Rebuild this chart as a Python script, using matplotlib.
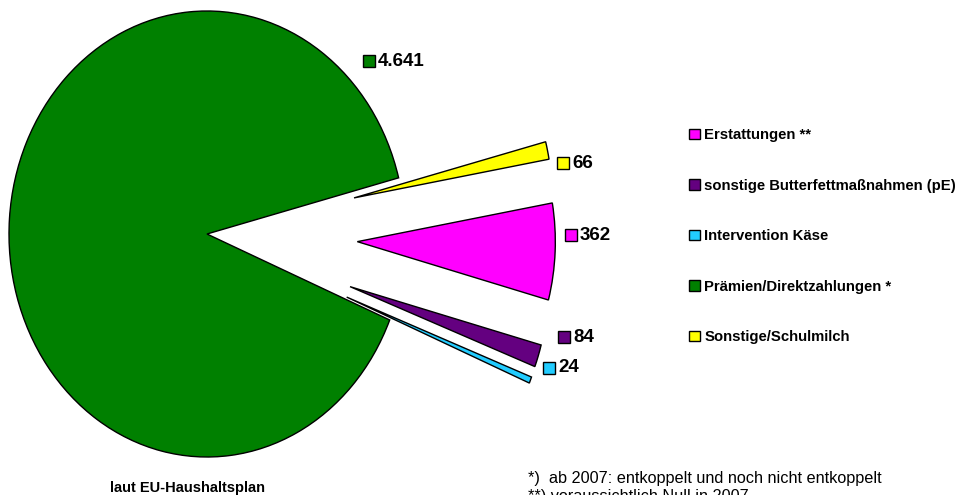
import matplotlib
matplotlib.use("Agg")
import matplotlib.pyplot as plt
from matplotlib.lines import Line2D
from matplotlib import font_manager

# data (Mio EUR)
labels = ["Erstattungen **", "sonstige Butterfettmaßnahmen (pE)", "Intervention Käse",
          "Prämien/Direktzahlungen *", "Sonstige/Schulmilch"]
values = [362, 84, 24, 4641, 66]
value_text = ["362", "84", "24", "4.641", "66"]
colors = ["#FF00FF", "#640080", "#22CCFF", "#008000", "#FFFF00"]
explode = [0.76, 0.76, 0.76, 0.0, 0.76]

names = {f.name for f in font_manager.fontManager.ttflist}
narrow = "Liberation Sans Narrow" if "Liberation Sans Narrow" in names else "Liberation Sans"
plt.rcParams["font.family"] = ["Liberation Sans", "DejaVu Sans"]

W, H = 959, 495
fig = plt.figure(figsize=(W / 100, H / 100), dpi=100)

# pie centre at (207, 234) px, rx=198, ry=223
cx, cy, rx, ry = 207, 234, 198, 223
x0, x1, y0, y1 = -1.04, 1.9, -1.05, 1.05
ax = fig.add_axes([(cx + x0 * rx) / W, (H - cy + y0 * ry) / H,
                   (x1 - x0) * rx / W, (y1 - y0) * ry / H])

wedges, _ = ax.pie(values, colors=colors, explode=explode, startangle=10,
                   counterclock=False,
                   wedgeprops=dict(edgecolor="black", linewidth=1))
ax.set_aspect("auto")
ax.set_xlim(x0, x1)
ax.set_ylim(y0, y1)
ax.axis("off")

# data labels with colour keys (figure pixel positions)
label_pos = [(580, 235), (573, 337), (558, 368), (378, 61), (572, 163)]
for (px, py), txt, c in zip(label_pos, value_text, colors):
    fig.add_artist(Line2D([(px - 9) / W], [1 - py / H], marker="s", markersize=8,
                          markerfacecolor=c, markeredgecolor="black",
                          markeredgewidth=1, transform=fig.transFigure))
    fig.text(px / W, 1 - py / H, txt, fontsize=13.5, fontweight="bold",
             ha="left", va="center")

leg = fig.legend(wedges, labels, loc="upper left",
                 bbox_to_anchor=(676 / W, 1 - 115 / H), frameon=False,
                 handlelength=0.7, handleheight=0.7,
                 handletextpad=0.3, labelspacing=2.45,
                 prop=dict(weight="bold", size=10.7))

fig.text(187 / W, 1 - 488 / H, "laut EU-Haushaltsplan", fontsize=10.5,
         fontweight="bold", ha="center", va="center", family=[narrow, "DejaVu Sans"])
fig.text(528 / W, 1 - 479 / H, "*)  ab 2007: entkoppelt und noch nicht entkoppelt",
         fontsize=11.7, ha="left", va="center", family=[narrow, "DejaVu Sans"])
fig.text(528 / W, 1 - 496 / H, "**) voraussichtlich Null in 2007",
         fontsize=11.7, ha="left", va="center", family=[narrow, "DejaVu Sans"])

fig.savefig("out.png", dpi=100)
